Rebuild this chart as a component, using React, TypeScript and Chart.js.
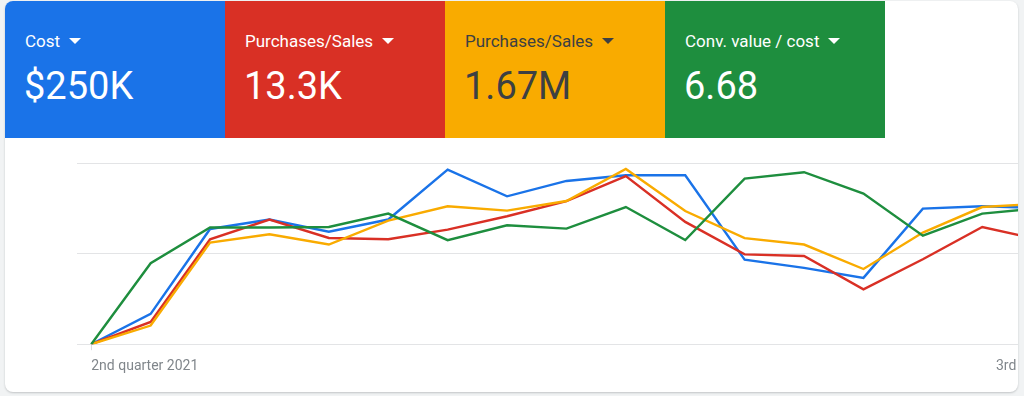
import React, { useEffect, useRef } from "react";
import { Chart, registerables } from "chart.js";

Chart.register(...registerables);

// ---- data ----
const pointIndex = [0, 1, 2, 3, 4, 5, 6, 7, 8, 9, 10, 11, 12, 13, 14, 15, 16];
const costValues = [0, 16.7, 63.6, 68.8, 62.1, 68.8, 96.3, 81.6, 90.1, 93.2, 93.2, 46.7, 42.1, 36.6, 74.8, 76.1, 75.2];
const purchasesValues = [0, 12.3, 57.9, 68.8, 58.6, 57.9, 63.2, 70.6, 79.0, 92.8, 67.5, 49.6, 48.7, 30.3, 46.9, 64.7, 57.4];
const salesValues = [0, 10.3, 56.1, 60.7, 55.0, 68.2, 76.1, 73.7, 79.0, 96.7, 73.5, 58.5, 55.0, 41.5, 61.6, 75.7, 77.6];
const roasValues = [0, 44.7, 64.4, 64.4, 64.7, 72.1, 57.4, 65.6, 63.8, 75.7, 57.5, 91.4, 94.9, 83.1, 59.9, 72.1, 75.2];

const quarterTickValues = [0, 15.23];
const quarterTickLabels = ["2nd quarter 2021", "3rd quarter 2021"];

const metricTitles = ["Cost", "Purchases/Sales", "Purchases/Sales", "Conv. value / cost"];
const metricTotals = ["$250K", "13.3K", "1.67M", "6.68"];
const metricColors = ["#1a73e8", "#d93025", "#f9ab00", "#1e8e3e"];
const metricTextColors = ["#ffffff", "#ffffff", "#3c4043", "#ffffff"];

const seriesList = [costValues, purchasesValues, salesValues, roasValues];

function toPoints(vals: number[]) {
  return vals.map((v, i) => ({ x: pointIndex[i], y: v }));
}

export default function App() {
  const canvasRef = useRef<HTMLCanvasElement | null>(null);

  useEffect(() => {
    document.body.style.margin = "0";
    document.body.style.background = "#f1f3f4";
    const canvas = canvasRef.current;
    if (!canvas) return;
    const chart = new Chart(canvas, {
      type: "line",
      data: {
        datasets: seriesList.map((vals, i) => ({
          label: metricTitles[i],
          data: toPoints(vals),
          borderColor: metricColors[i],
          backgroundColor: metricColors[i],
          borderWidth: 2.4,
          pointRadius: 0,
          tension: 0,
          fill: false,
          order: [4, 3, 2, 1][i],
        })),
      },
      options: {
        responsive: false,
        animation: false,
        events: [],
        layout: { padding: { left: 72, top: 25, right: 0, bottom: 9 } },
        plugins: { legend: { display: false }, tooltip: { enabled: false } },
        scales: {
          x: {
            type: "linear",
            min: -0.24,
            max: 18.75,
            afterBuildTicks: (scale: any) => {
              scale.ticks = quarterTickValues.map((v) => ({ value: v }));
            },
            ticks: {
              autoSkip: false,
              maxRotation: 0,
              align: "start",
              padding: 8,
              color: "#80868b",
              font: { family: "Roboto", size: 14 },
              callback: (value: any) => {
                const idx = quarterTickValues.indexOf(Number(value));
                return idx >= 0 ? quarterTickLabels[idx] : "";
              },
            },
            grid: {
              drawOnChartArea: false,
              drawTicks: true,
              tickLength: 6,
              color: (ctx: any) => (ctx.index === 0 ? "#dadce0" : "rgba(0,0,0,0)"),
            },
            border: { display: false },
          },
          y: {
            min: 0,
            max: 100,
            ticks: { display: false, stepSize: 50 },
            grid: { color: "#e3e4e6", drawTicks: false, lineWidth: 1 },
            border: { display: false },
          },
        },
      },
    });
    return () => chart.destroy();
  }, []);

  return (
    <div
      style={{
        position: "absolute",
        left: 5,
        top: 1,
        width: 1013,
        height: 391,
        background: "#ffffff",
        borderRadius: 8,
        overflow: "hidden",
        boxShadow: "0 1px 2px rgba(60,64,67,0.25)",
        fontFamily: "Roboto, sans-serif",
      }}
    >
      <div style={{ display: "flex", height: 137 }}>
        {metricTitles.map((t, i) => (
          <div
            key={i}
            style={{
              width: 220,
              height: 137,
              background: metricColors[i],
              color: metricTextColors[i],
              boxSizing: "border-box",
              position: "relative",
            }}
          >
            <div
              style={{
                position: "absolute",
                left: 20,
                top: 29,
                fontSize: 17,
                lineHeight: "22px",
                whiteSpace: "nowrap",
                display: "flex",
                alignItems: "center",
              }}
            >
              <span>{t}</span>
              <span
                style={{
                  display: "inline-block",
                  marginLeft: 9,
                  width: 0,
                  height: 0,
                  borderLeft: "6px solid transparent",
                  borderRight: "6px solid transparent",
                  borderTop: `6px solid ${metricTextColors[i]}`,
                }}
              />
            </div>
            <div
              style={{
                position: "absolute",
                left: 19,
                top: 63,
                fontSize: 38,
                lineHeight: "44px",
                whiteSpace: "nowrap",
              }}
            >
              {metricTotals[i]}
            </div>
          </div>
        ))}
      </div>
      <div style={{ position: "relative", width: 1200, height: 254 }}>
        <canvas ref={canvasRef} width={1200} height={254} style={{ display: "block" }} />
      </div>
    </div>
  );
}
